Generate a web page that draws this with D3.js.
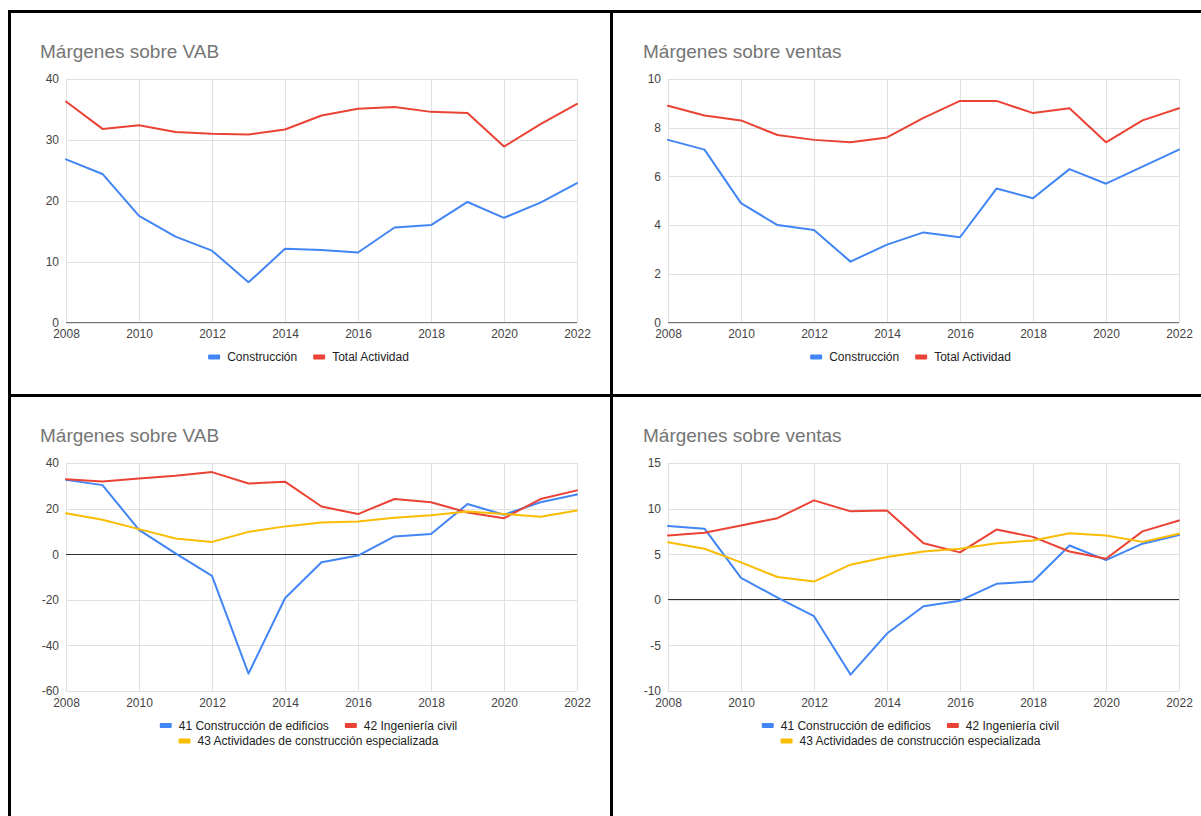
<!DOCTYPE html>
<html>
<head>
<meta charset="utf-8">
<script src="https://cdn.jsdelivr.net/npm/d3@7/dist/d3.min.js"></script>
<style>
  body { margin: 0; background: #fff; }
  svg { display: block; }
</style>
</head>
<body>
<svg id="chart" width="1201" height="816"></svg>
<script>
// Years and axis ticks
const years = [2008, 2009, 2010, 2011, 2012, 2013, 2014, 2015, 2016, 2017, 2018, 2019, 2020, 2021, 2022];
const yearTicks = [2008, 2010, 2012, 2014, 2016, 2018, 2020, 2022];

// Margins over gross value added (%)
const construccionVAB = [26.8, 24.4, 17.5, 14.1, 11.8, 6.6, 12.1, 11.9, 11.5, 15.6, 16.0, 19.8, 17.2, 19.7, 22.9];
const totalActividadVAB = [36.3, 31.8, 32.4, 31.3, 31.0, 30.9, 31.7, 34.0, 35.1, 35.4, 34.6, 34.4, 28.9, 32.6, 35.9];

// Margins over sales (%)
const construccionVentas = [7.5, 7.1, 4.9, 4.0, 3.8, 2.5, 3.2, 3.7, 3.5, 5.5, 5.1, 6.3, 5.7, 6.4, 7.1];
const totalActividadVentas = [8.9, 8.5, 8.3, 7.7, 7.5, 7.4, 7.6, 8.4, 9.1, 9.1, 8.6, 8.8, 7.4, 8.3, 8.8];

// Margins over GVA by sub-sector (%)
const edificiosVAB = [32.6, 30.3, 10.7, 0.4, -9.5, -52.4, -19.3, -3.5, -0.6, 7.8, 8.9, 22.0, 17.3, 22.8, 26.2];
const ingenieriaVAB = [32.9, 31.9, 33.2, 34.4, 36.0, 31.0, 31.8, 20.9, 17.6, 24.2, 22.8, 18.3, 15.8, 24.2, 28.0];
const especializadaVAB = [18.0, 15.1, 11.0, 6.9, 5.4, 9.8, 12.2, 13.9, 14.3, 16.0, 17.1, 18.7, 17.6, 16.4, 19.2];

// Margins over sales by sub-sector (%)
const edificiosVentas = [8.1, 7.8, 2.4, 0.25, -1.8, -8.2, -3.7, -0.7, -0.1, 1.75, 2.0, 5.95, 4.35, 6.15, 7.1];
const ingenieriaVentas = [7.05, 7.35, 8.15, 8.95, 10.9, 9.7, 9.8, 6.2, 5.2, 7.7, 6.9, 5.3, 4.5, 7.5, 8.7];
const especializadaVentas = [6.3, 5.6, 4.1, 2.5, 2.0, 3.85, 4.7, 5.3, 5.6, 6.2, 6.5, 7.3, 7.05, 6.35, 7.25];

// Value-axis ticks
const vabTicksTotal = [0, 10, 20, 30, 40];
const ventasTicksTotal = [0, 2, 4, 6, 8, 10];
const vabTicksSector = [-60, -40, -20, 0, 20, 40];
const ventasTicksSector = [-10, -5, 0, 5, 10, 15];

// Titles and series names
const titleVAB = "Márgenes sobre VAB";
const titleVentas = "Márgenes sobre ventas";
const namesTotal = ["Construcción", "Total Actividad"];
const namesSector = ["41 Construcción de edificios", "42 Ingeniería civil", "43 Actividades de construcción especializada"];
const palette = ["#4285F4", "#EA4335", "#FBBC04"];

const svg = d3.select("#chart");
const FONT = "'Liberation Sans', Arial, sans-serif";
const plain = d => String(d); // keeps an ASCII hyphen for negatives

svg.append("rect").attr("width", 1201).attr("height", 816).attr("fill", "#fff");

const panels = [
  { title: titleVAB, ox: 0, oy: 0, ticks: vabTicksTotal, names: namesTotal,
    values: [construccionVAB, totalActividadVAB], rows: [[0, 1]] },
  { title: titleVentas, ox: 602, oy: 0, ticks: ventasTicksTotal, names: namesTotal,
    values: [construccionVentas, totalActividadVentas], rows: [[0, 1]] },
  { title: titleVAB, ox: 0, oy: 384, ticks: vabTicksSector, names: namesSector,
    values: [edificiosVAB, ingenieriaVAB, especializadaVAB], rows: [[0, 1], [2]], short: true },
  { title: titleVentas, ox: 602, oy: 384, ticks: ventasTicksSector, names: namesSector,
    values: [edificiosVentas, ingenieriaVentas, especializadaVentas], rows: [[0, 1], [2]], short: true }
];

panels.forEach(p => {
  const g = svg.append("g").attr("transform", `translate(${p.ox},${p.oy})`);
  const left = 66, right = 577, top = 79;
  const bottom = p.short ? 307 : 322.5;

  const x = d3.scaleLinear().domain([years[0], years[years.length - 1]]).range([left, right]);
  const y = d3.scaleLinear().domain(d3.extent(p.ticks)).range([bottom, top]);

  // title
  g.append("text")
    .attr("x", p.ox ? 41 : 40).attr("y", 58)
    .attr("font-family", FONT).attr("font-size", 19).attr("fill", "#757575")
    .text(p.title);

  // horizontal grid + y labels
  const yAxis = d3.axisLeft(y).tickValues(p.ticks).tickSize(-(right - left)).tickPadding(7).tickFormat(plain);
  const ya = g.append("g").attr("transform", `translate(${left},0)`).call(yAxis);
  ya.select(".domain").remove();
  ya.selectAll("line").attr("stroke", "#e0e0e0").attr("stroke-width", 1).attr("shape-rendering", "crispEdges");
  ya.selectAll("text").attr("font-family", FONT).attr("font-size", 12).attr("fill", "#444");

  // vertical grid + x labels
  const xAxis = d3.axisBottom(x).tickValues(yearTicks).tickSize(-(bottom - top)).tickPadding(7).tickFormat(plain);
  const xa = g.append("g").attr("transform", `translate(0,${bottom})`).call(xAxis);
  xa.select(".domain").remove();
  xa.selectAll("line").attr("stroke", "#e0e0e0").attr("stroke-width", 1).attr("shape-rendering", "crispEdges");
  xa.selectAll("text").attr("font-family", FONT).attr("font-size", 12).attr("fill", "#444");

  // zero baseline
  g.append("line")
    .attr("x1", left).attr("x2", right).attr("y1", y(0)).attr("y2", y(0))
    .attr("stroke", p.short ? "#333" : "#777").attr("stroke-width", 1).attr("shape-rendering", "crispEdges");

  // series lines
  const line = d3.line().x((d, i) => x(years[i])).y(d => y(d));
  p.values.forEach((vals, si) => {
    g.append("path").datum(vals)
      .attr("d", line).attr("fill", "none")
      .attr("stroke", palette[si]).attr("stroke-width", 2)
      .attr("stroke-linejoin", "round").attr("stroke-linecap", "round");
  });

  // legend
  const legendCenter = (left + right) / 2 - 13;
  const legendY0 = bottom + 34.5;
  p.rows.forEach((row, ri) => {
    const lg = g.append("g");
    let cx = 0;
    row.forEach((si, k) => {
      if (k > 0) cx += 16;
      lg.append("rect").attr("x", cx).attr("y", -2.5).attr("width", 12).attr("height", 5)
        .attr("rx", 1).attr("fill", palette[si]);
      const t = lg.append("text").attr("x", cx + 19).attr("y", 4.2)
        .attr("font-family", FONT).attr("font-size", 12).attr("fill", "#222")
        .text(p.names[si]);
      cx += 19 + t.node().getComputedTextLength();
    });
    lg.attr("transform", `translate(${legendCenter - cx / 2},${legendY0 + ri * 15.5})`);
  });
});

// panel frame lines
const frame = svg.append("g").attr("stroke", "#000").attr("stroke-width", 3);
frame.append("line").attr("x1", 8).attr("x2", 1201).attr("y1", 11.5).attr("y2", 11.5);
frame.append("line").attr("x1", 9.5).attr("x2", 9.5).attr("y1", 10).attr("y2", 816);
frame.append("line").attr("x1", 611.5).attr("x2", 611.5).attr("y1", 10).attr("y2", 816);
frame.append("line").attr("x1", 8).attr("x2", 1201).attr("y1", 395.5).attr("y2", 395.5);
</script>
</body>
</html>
